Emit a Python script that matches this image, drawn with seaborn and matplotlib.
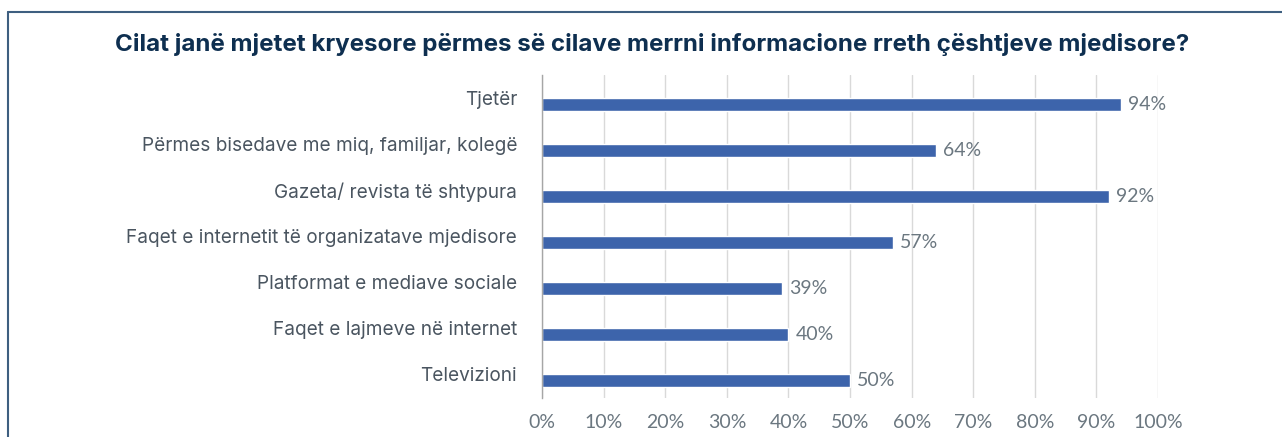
import matplotlib
matplotlib.use("Agg")
import matplotlib.pyplot as plt
import matplotlib.transforms as mtransforms
from matplotlib.lines import Line2D
from matplotlib.ticker import PercentFormatter
import pandas as pd
import seaborn as sns

# data
categories = [
    "Tjetër",
    "Përmes bisedave me miq, familjar, kolegë",
    "Gazeta/ revista të shtypura",
    "Faqet e internetit të organizatave mjedisore",
    "Platformat e mediave sociale",
    "Faqet e lajmeve në internet",
    "Televizioni",
]
values = [94, 64, 92, 57, 39, 40, 50]
x_ticks = [0, 10, 20, 30, 40, 50, 60, 70, 80, 90, 100]
title = "Cilat janë mjetet kryesore përmes së cilave merrni informacione rreth çështjeve mjedisore?"

df = pd.DataFrame({"mjeti": categories, "perqindja": [v / 100 for v in values]})

sns.set_style("white")
plt.rcParams["font.family"] = ["Inter", "DejaVu Sans"]

fig = plt.figure(figsize=(12.82, 4.37), dpi=100)
ax = fig.add_axes([0.4228, 0.0892, 0.4805, 0.7392])

sns.barplot(data=df, x="perqindja", y="mjeti", orient="h", color="#3D64AB",
            saturation=1, width=0.28, ax=ax)

ax.set_xlim(0, 1.0)
ax.set_ylim(len(categories) - 1 + 0.38, -0.65)
ax.set_xticks([t / 100 for t in x_ticks])
ax.xaxis.set_major_formatter(PercentFormatter(1.0, decimals=0))
ax.grid(axis="x", color="#D9D9D9", linewidth=1)
ax.set_axisbelow(True)
ax.set_xlabel("")
ax.set_ylabel("")

for s in ["top", "right", "bottom"]:
    ax.spines[s].set_visible(False)
ax.spines["left"].set_color("#A6A6A6")
ax.spines["left"].set_linewidth(1)

ax.tick_params(axis="x", length=0, pad=11.5, labelsize=14, labelcolor="#6B7780")
ax.tick_params(axis="y", length=0, pad=18, labelsize=13.7, labelcolor="#4A5560")
for lbl in ax.get_xticklabels():
    lbl.set_fontfamily(["Lato", "DejaVu Sans"])

# category labels sit a little above their bars
up = mtransforms.ScaledTranslation(0, 7 / 100, fig.dpi_scale_trans)
for lbl in ax.get_yticklabels():
    lbl.set_transform(lbl.get_transform() + up)

# value labels
texts = ax.bar_label(ax.containers[0], labels=[f"{v}%" for v in values], padding=5,
                     fontsize=14, color="#6B7780", family=["Lato", "DejaVu Sans"])
down = mtransforms.ScaledTranslation(0, -5 / 100, fig.dpi_scale_trans)
for t in texts:
    t.set_transform(t.get_transform() + down)

fig.text(0.509, 0.899, title, ha="center", va="center", fontsize=17.4,
         fontweight="bold", color="#0E2F50")

# frame lines (top and left) like the source
fig.add_artist(Line2D([8 / 1282, 1.0], [1 - 12 / 437, 1 - 12 / 437],
                      transform=fig.transFigure, color="#3E5F80", linewidth=1.5))
fig.add_artist(Line2D([8 / 1282, 8 / 1282], [0, 1 - 12 / 437],
                      transform=fig.transFigure, color="#3E5F80", linewidth=1.5))

fig.savefig("out.png", dpi=100, facecolor="white")
